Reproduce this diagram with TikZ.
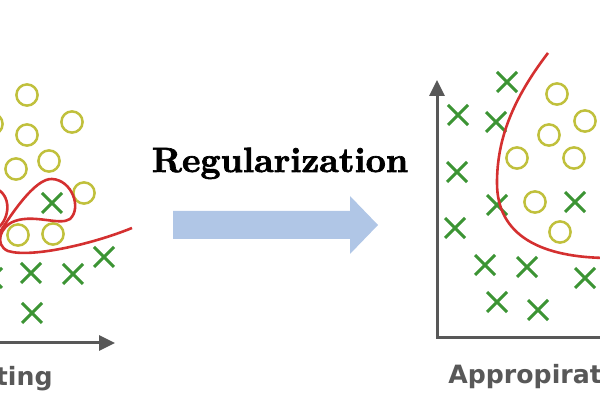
\documentclass[tikz,border=0pt]{standalone}
\usepackage{fontspec}
\newfontfamily\captionfont{DejaVu Sans}
\newfontfamily\headfont{lmroman10-bold.otf}[FakeBold=2]
\usetikzlibrary{arrows.meta}
\definecolor{dotyellow}{RGB}{192,192,60}
\definecolor{crossgreen}{RGB}{60,148,52}
\definecolor{fitred}{RGB}{212,48,48}
\definecolor{axisgray}{RGB}{88,88,88}
\definecolor{arrowblue}{RGB}{176,198,230}

\begin{document}
\begin{tikzpicture}[x=0.5pt,y=-0.5pt,
    ring/.style={draw=dotyellow,line width=1.25pt},
    crossmark/.style={draw=crossgreen,line width=1.5pt},
    fitline/.style={draw=fitred,line width=1.3pt},
    axisline/.style={draw=axisgray,line width=1.5pt,-{Triangle[length=8pt,width=7.5pt]}},
    caption/.style={inner sep=0pt,text=axisgray,font=\captionfont\bfseries\fontsize{12.6}{15}\selectfont}]
    \useasboundingbox (0,0) rectangle (600,400);
    \clip (0,0) rectangle (600,400);
    % left plot (overfitting)
    \draw[axisline] (-20,343) -- (115,343);
    \foreach \x/\y in {27/95,-8/124,72/122,27/135,49/161,16/169,84/193,18/235,53/234}
      \draw[ring] (\x,\y) circle[radius=5.3pt];
    \foreach \x/\y in {52/203,104/257,31/273,73/274,-8/278,32/313}
      \draw[crossmark] (\x-10,\y-10) -- (\x+10,\y+10) (\x-10,\y+10) -- (\x+10,\y-10);
    \draw[fitline] (-5,188) .. controls (12,195) and (10,218) .. (-2,228);
    \draw[fitline] (-8,245) .. controls (10,215) and (35,178) .. (52,179)
      .. controls (72,180) and (82,208) .. (70,219)
      .. controls (60,226) and (35,214) .. (15,221)
      .. controls (0,226) and (-6,245) .. (8,251)
      .. controls (30,258) and (90,245) .. (132,228);
    \node[caption,anchor=base east] (overfit) at (53,386) {ting};
    % regularization arrow
    \node[inner sep=0pt,anchor=base,font=\headfont\fontsize{17.5}{20}\selectfont] (reg) at (280,172) {Regularization};
    \fill[arrowblue] (173,211) -- (350,211) -- (350,196) -- (378,225) -- (350,254) -- (350,239) -- (173,239) -- cycle;
    % right plot (appropriate fitting)
    \draw[axisline] (437,338) -- (437,80);
    \draw[draw=axisgray,line width=1.5pt] (436.2,338) -- (620,338);
    \foreach \x/\y in {557/94,585/121,549/135,517/158,574/158,612/167,535/202,560/232}
      \draw[ring] (\x,\y) circle[radius=5.3pt];
    \foreach \x/\y in {507/82,458/115,496/122,457/172,497/205,575/202,455/228,485/265,527/267,585/278,497/302,538/310}
      \draw[crossmark] (\x-10,\y-10) -- (\x+10,\y+10) (\x-10,\y+10) -- (\x+10,\y-10);
    \draw[fitline] (548,53) .. controls (512,100) and (497,140) .. (497,183)
      .. controls (497,235) and (540,258) .. (610,258);
    \node[caption,anchor=base west] (approp) at (448,384) {Appropirat};
  \end{tikzpicture}
\end{document}
